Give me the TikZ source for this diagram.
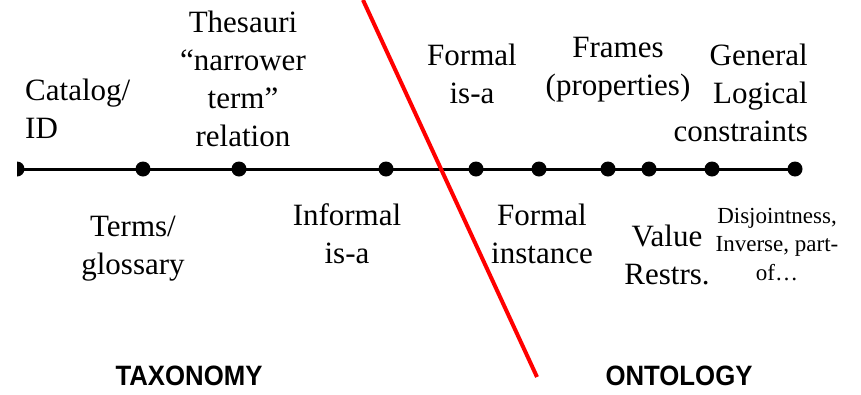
\documentclass[tikz,border=0pt]{standalone}
\usepackage{fontspec}
\setmainfont{Liberation Serif}
\newfontfamily\headfont[FakeStretch=0.92]{Liberation Sans}
\usetikzlibrary{positioning}

\tikzset{
  dot/.style={circle, fill=black, inner sep=0pt, minimum size=15pt},
  lbl/.style={inner sep=0pt, align=center, font=\fontsize{31}{38}\selectfont},
  small/.style={inner sep=0pt, align=center, font=\fontsize{23}{28.5}\selectfont},
  side/.style={inner sep=0pt, font=\fontsize{28}{32}\selectfont\headfont\bfseries},
  axis/.style={line width=3pt, black},
  cut/.style={line width=4pt, red}
}

\begin{document}
\begin{tikzpicture}[x=1pt, y=-1pt] %% pixel grid of the slide

\useasboundingbox (0,0) rectangle (861,394);

% points on the scale
\begin{scope}
\clip (17,150) rectangle (40,190);
\node[dot] (p0) at (17,169) {};
\end{scope}
\node[dot] (p1) at (143,169) {};
\node[dot] (p2) at (239,169) {};
\node[dot] (p3) at (386,169) {};
\node[dot] (p4) at (476,169) {};
\node[dot] (p5) at (539,169) {};
\node[dot] (p6) at (608,169) {};
\node[dot] (p7) at (649,169) {};
\node[dot] (p8) at (712,169) {};
\node[dot] (p9) at (795,169) {};

\draw[axis] (p0.center) -- (p9.center); %scala

% labels above (base = last line)
\node[lbl, align=left, anchor=base west] (catalog) at (25,138) {Catalog/\\ID};
\node[lbl, anchor=base] (thesauri) at (243,146) {Thesauri\\“narrower\\term”\\relation};
\node[lbl, anchor=base] (formalisa) at (472,103) {Formal\\is-a};
\node[lbl, anchor=base] (frames) at (618,95) {Frames\\(properties)};
\node[lbl, align=right, anchor=base east] (general) at (808,141) {General\\Logical\\constraints};

% labels below
\node[lbl, anchor=base] (terms) at (133,274) {Terms/\\glossary};
\node[lbl, anchor=base] (informal) at (347,263) {Informal\\is-a};
\node[lbl, anchor=base] (instance) at (542,263) {Formal\\instance};
\node[lbl, anchor=base] (value) at (667,284) {Value\\Restrs.};
\node[small, anchor=base] (disjoint) at (777,280) {Disjointness,\\Inverse, part-\\of…};

\node[side, anchor=base] (taxonomy) at (189,385) {TAXONOMY};
\node[side, anchor=base] (ontology) at (679,385) {ONTOLOGY};

% divide
\coordinate (cuttop) at (363,0);
\coordinate (cutbot) at (537,377);
\draw[cut] (cuttop) -- (cutbot);

\end{tikzpicture}
\end{document}
